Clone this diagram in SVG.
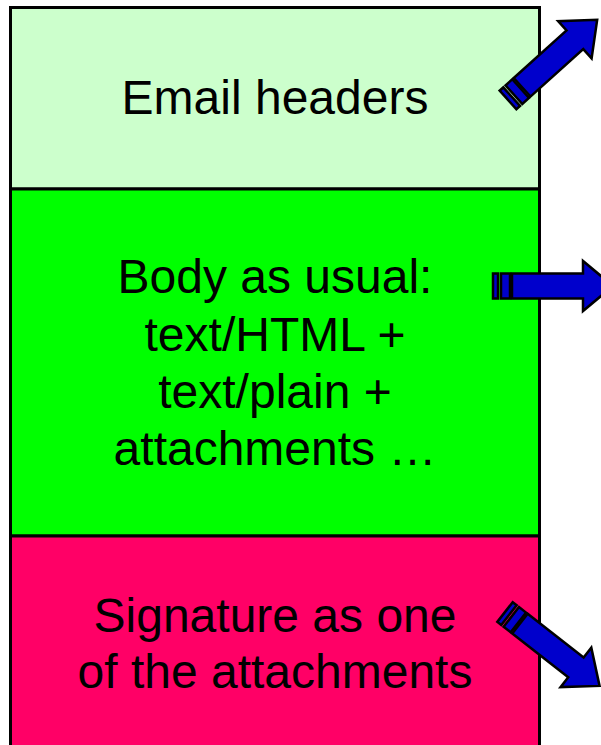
<svg xmlns="http://www.w3.org/2000/svg" width="601" height="745" viewBox="0 0 601 745">
<style>
.box{stroke:#000;stroke-width:3}
.t{font-family:"Liberation Sans",Arial,sans-serif;font-size:48px;fill:#000;text-anchor:middle}
.arr{fill:#0000CC;stroke:#000;stroke-width:2.5;stroke-linejoin:miter}
</style>
<defs>
<g id="striped">
<rect class="arr" x="0" y="-12.5" width="5" height="25"/>
<rect class="arr" x="8" y="-12.5" width="9" height="25"/>
<polygon class="arr" points="19,-12.5 90,-12.5 90,-25 120,0 90,25 90,12.5 19,12.5"/>
</g>
</defs>
<rect width="601" height="745" fill="#fff"/>
<g id="headers">
<rect class="box" x="10.5" y="7.5" width="529" height="181.5" fill="#CCFFCC"/>
<text class="t" x="275" y="114">Email headers</text>
</g>
<g id="body">
<rect class="box" x="10.5" y="189" width="529" height="347" fill="#00FF00"/>
<text class="t" x="275" y="293">Body as usual:</text>
<text class="t" x="275" y="351">text/HTML +</text>
<text class="t" x="275" y="408">text/plain +</text>
<text class="t" x="275" y="465">attachments …</text>
</g>
<g id="signature">
<rect class="box" x="10.5" y="536" width="529" height="220" fill="#FF0066"/>
<text class="t" x="275" y="632">Signature as one</text>
<text class="t" x="275" y="688">of the attachments</text>
</g>
<g id="connectors">
<use href="#striped" transform="translate(508,100) rotate(-42)"/>
<use href="#striped" transform="translate(493,286)"/>
<use href="#striped" transform="translate(505,612) rotate(38)"/>
</g>
</svg>
